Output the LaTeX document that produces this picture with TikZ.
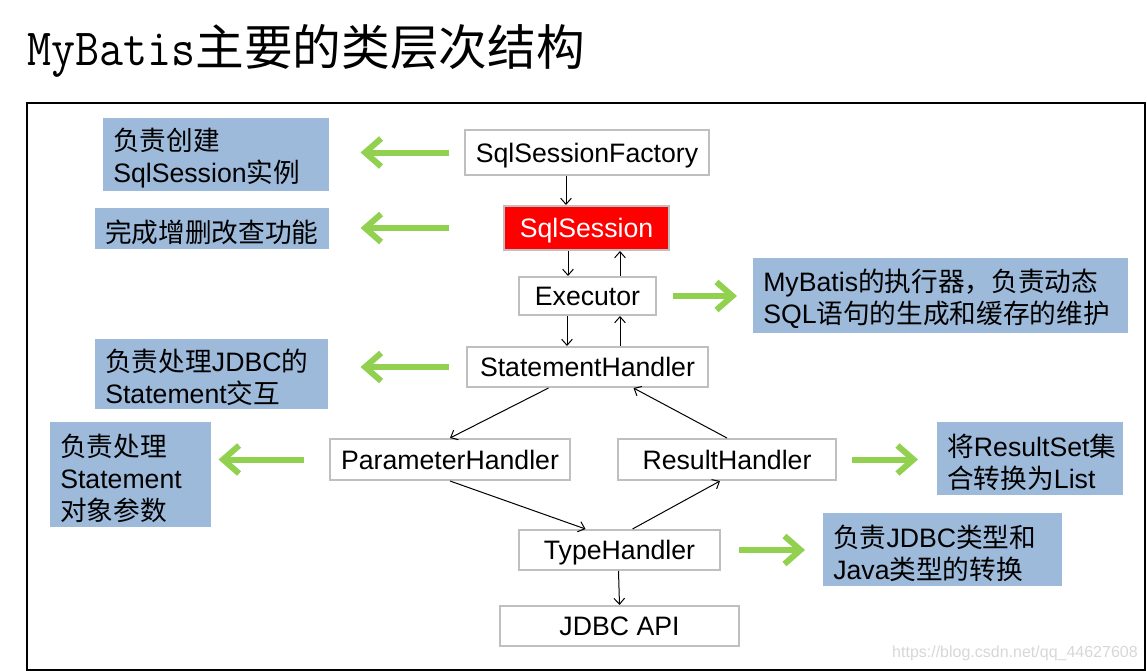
\documentclass[tikz,border=0pt]{standalone}
\usepackage{fontspec}
\setmainfont{Liberation Sans}
\newfontfamily\cjk{Noto Sans CJK SC}
\usetikzlibrary{arrows.meta,calc}
\newlength\px
\setlength\px{0.75pt}
\newcommand\zh[1]{{\cjk #1}}
\definecolor{boxblue}{RGB}{157,186,218}
\definecolor{arrgreen}{RGB}{146,208,80}
\definecolor{boxgray}{RGB}{191,191,191}
\definecolor{wmgray}{RGB}{215,215,215}
\begin{document}
\begin{tikzpicture}[x=0.75pt,y=-0.75pt,
  cls/.style={draw=boxgray, line width=2\px, fill=white, inner sep=0pt,
    text height=16pt, text depth=1.5pt,
    font=\fontsize{20}{24}\selectfont},
  note/.style={fill=boxblue, inner ysep=0pt, inner xsep=10\px, anchor=north west,
    align=left, font=\fontsize{20}{24}\selectfont,
    execute at begin node={\rule{0pt}{22pt}}},
  link/.style={draw=black, line width=1\px, -{Straight Barb[length=4.5pt,width=8pt]}},
  garrow/.style={draw=arrgreen, line width=6\px, -{Straight Barb[length=12pt,width=21pt]}}
]
\useasboundingbox (0,0) rectangle (1147,671);
% title
\node[anchor=base west, inner sep=0pt] (title) at (27,65)
  {\scalebox{1}[1.12]{\fontsize{35}{40}\ttfamily MyBatis}{\fontsize{36.5}{40}\cjk 主要的类层次结构}};
% frame
\draw[line width=1.5\px] (27,103) rectangle (1145,670);

% class boxes
\node[cls, minimum width=244\px, minimum height=45\px] (ssf) at (587,152.5) {SqlSessionFactory};
\node[cls, fill=red, text=white, minimum width=165\px, minimum height=44\px] (ss) at (586.5,228) {SqlSession};
\node[cls, minimum width=137\px, minimum height=38\px] (ex) at (587.5,296) {Executor};
\node[cls, minimum width=241\px, minimum height=40\px] (sh) at (587.5,367) {StatementHandler};
\node[cls, minimum width=240\px, minimum height=41\px] (ph) at (450,459.5) {ParameterHandler};
\node[cls, minimum width=218\px, minimum height=41\px] (rh) at (727,459.5) {ResultHandler};
\node[cls, minimum width=201\px, minimum height=40\px] (th) at (619.5,550) {TypeHandler};
\node[cls, minimum width=239\px, minimum height=40\px] (jdbc) at (619.5,626) {JDBC API};

% note boxes
\node[note, text width=206\px, minimum height=73\px] (b1) at (103,118)
  {\zh{负责创建}\\SqlSession\zh{实例}};
\node[note, text width=214\px, minimum height=41\px] (b2) at (95,208)
  {\zh{完成增删改查功能}};
\node[note, text width=355\px, minimum height=75\px] (b3) at (753,258)
  {MyBatis\zh{的执行器，负责动态}\\SQL\zh{语句的生成和缓存的维护}};
\node[note, text width=213\px, minimum height=70\px] (b4) at (95,339)
  {\zh{负责处理}JDBC\zh{的}\\Statement\zh{交互}};
\node[note, text width=141\px, minimum height=105\px] (b5) at (50,422)
  {\zh{负责处理}\\Statement\\\zh{对象参数}};
\node[note, text width=166\px, minimum height=73\px] (b6) at (937,422)
  {\zh{将}ResultSet\zh{集}\\\zh{合转换为}List};
\node[note, text width=219\px, minimum height=73\px] (b7) at (823,513)
  {\zh{负责}JDBC\zh{类型和}\\Java\zh{类型的转换}};

% black links
\draw[link] ([xshift=-21\px]ssf.south) -- ([xshift=-20.5\px]ss.north);
\draw[link] ([xshift=-18.5\px]ss.south) -- ([xshift=-19.5\px]ex.north);
\draw[link] ([xshift=32.5\px]ex.north) -- ([xshift=33.5\px]ss.south);
\draw[link] ([xshift=-20.5\px]ex.south) -- ([xshift=-20.5\px]sh.north);
\draw[link] ([xshift=32.5\px]sh.north) -- ([xshift=32.5\px]ex.south);
\draw[link] ([xshift=-39\px]sh.south) -- (ph.north);
\draw[link] (rh.north) -- ([xshift=46\px]sh.south);
\draw[link] (ph.south) -- ([xshift=-34\px]th.north);
\draw[link] ([xshift=13\px]th.north) -- ([xshift=-7\px]rh.south);
\draw[link] ([xshift=-1\px]th.south) -- (jdbc.north);

% green arrows
\draw[garrow] ([xshift=-15\px]ssf.west) -- ($(b1.east |- ssf.west)+(31,0)$);
\draw[garrow] ([xshift=-54\px]ss.west) -- ($(b2.east |- ss.west)+(31,0)$);
\draw[garrow] ([xshift=16\px]ex.east) -- ($(b3.west |- ex.east)+(-16,0)$);
\draw[garrow] ([xshift=-17\px]sh.west) -- ($(b4.east |- sh.west)+(32,0)$);
\draw[garrow] ([xshift=-25\px]ph.west) -- ($(b5.east |- ph.west)+(7,0)$);
\draw[garrow] ([xshift=15\px]rh.east) -- ($(b6.west |- rh.east)+(-19,0)$);
\draw[garrow] ([xshift=18\px]th.east) -- ($(b7.west |- th.east)+(-18,0)$);

% watermark
\node[anchor=east, inner sep=0pt, text=wmgray, font=\fontsize{12}{14}\selectfont] (wm) at (1138,653)
  {https://blog.csdn.net/qq\_44627608};
\end{tikzpicture}
\end{document}
